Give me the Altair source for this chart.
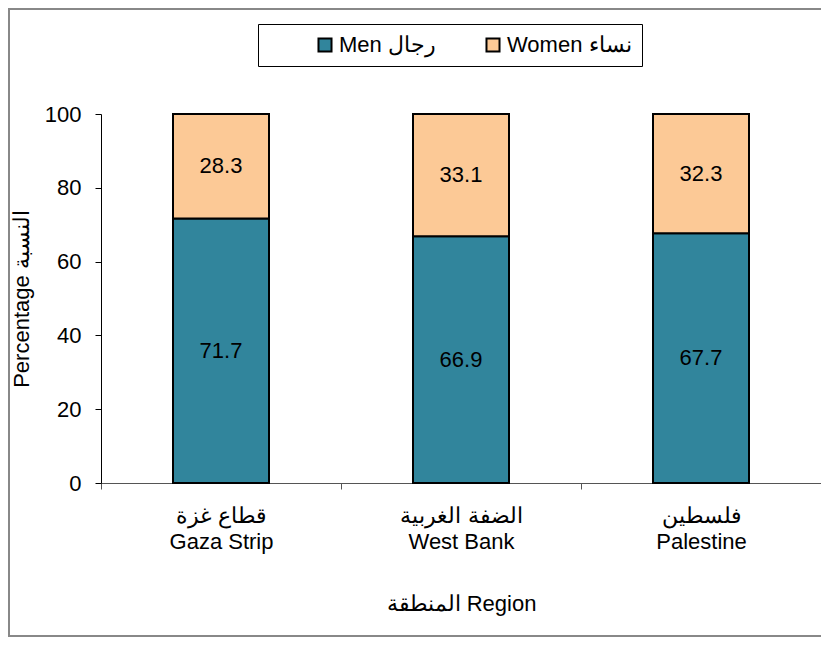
import altair as alt
import pandas as pd

regions = ["Gaza Strip", "West Bank", "Palestine"]
region_labels = ["قطاع غزة\nGaza Strip", "الضفة الغربية\nWest Bank", "فلسطين\nPalestine"]
men = [71.7, 66.9, 67.7]
women = [28.3, 33.1, 32.3]
series = ["Men رجال", "Women نساء"]
colors = ["#31859C", "#FCC996"]

rows = []
for lab, m, w in zip(region_labels, men, women):
    rows.append({"region": lab, "sex": series[0], "value": m, "order": 0, "start": 0, "end": m})
    rows.append({"region": lab, "sex": series[1], "value": w, "order": 1, "start": m, "end": m + w})
df = pd.DataFrame(rows)
df["mid"] = (df["start"] + df["end"]) / 2

FONT = "Liberation Sans"
FS = 22

x = alt.X("region:N", sort=region_labels,
          scale=alt.Scale(paddingInner=0, paddingOuter=0),
          axis=alt.Axis(title="المنطقة Region", labelExpr="split(datum.label, '\\n')",
                        labelAngle=0, tickBand="extent", labelFontSize=FS, labelLineHeight=26,
                        labelPadding=16, titleFontSize=FS, titlePadding=41,
                        domainColor="#555", tickColor="#555", tickSize=6, labelColor="black",
                        titleFontWeight="normal", labelFont=FONT, titleFont=FONT))

bars = alt.Chart(df).mark_bar(width=alt.RelativeBandSize(0.4), stroke="black", strokeWidth=2).encode(
    x=x,
    y=alt.Y("start:Q", scale=alt.Scale(domain=[0, 100]),
            axis=alt.Axis(title="Percentage        النسبة", values=[0, 20, 40, 60, 80, 100],
                          grid=False, labelFontSize=FS, titleFontSize=FS, titleFontWeight="normal",
                          domainColor="black", tickColor="black", tickSize=6, labelColor="black",
                          labelPadding=14, titlePadding=11, labelFont=FONT, titleFont=FONT)),
    y2="end:Q",
    color=alt.Color("sex:N", scale=alt.Scale(domain=series, range=colors),
                    legend=alt.Legend(title=None, orient="none", legendX=157, legendY=-90,
                                      direction="horizontal", strokeColor="black", padding=10,
                                      symbolType="square", symbolSize=170, symbolStrokeColor="black",
                                      symbolStrokeWidth=2, labelFontSize=FS, labelFont=FONT,
                                      columnPadding=0, labelColor="black", symbolOffset=46,
                                      labelOffset=3, labelLimit=300)),
)

labels = alt.Chart(df).mark_text(fontSize=FS, font=FONT, color="black").encode(
    x=alt.X("region:N", sort=region_labels),
    y=alt.Y("mid:Q"),
    text=alt.Text("value:Q", format=".1f"),
)

frame = alt.Chart(pd.DataFrame({"a": [0]})).mark_rect(
    fill="white", fillOpacity=0, stroke="#888888", strokeWidth=2, clip=False
).encode(x=alt.value(-92), x2=alt.value(760), y=alt.value(-105), y2=alt.value(522))

chart = alt.layer(frame, bars, labels).properties(
    width=720, height=369,
    autosize=alt.AutoSizeParams(type="none"),
    padding={"left": 93, "top": 106, "right": 0, "bottom": 155},
).configure_view(stroke=None)

chart.save("out.html", embed_options={"renderer": "svg", "actions": False})
